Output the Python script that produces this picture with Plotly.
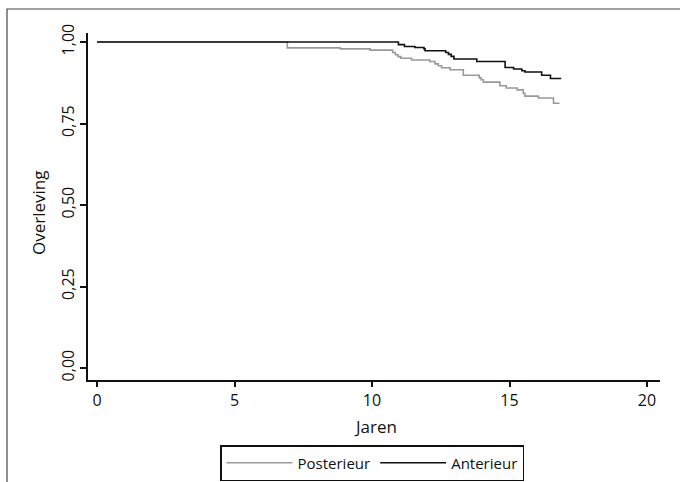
import plotly.graph_objects as go

# Kaplan-Meier step data
post_t = [0, 6.92, 8.84, 9.93, 10.75, 10.85, 10.95, 11.05, 11.44, 12.10, 12.29, 12.41, 12.53,
          12.84, 13.32, 13.90, 13.97, 14.05, 14.65, 14.88, 15.28, 15.50, 15.56, 16.05, 16.60, 16.82]
post_s = [1.0, 0.982, 0.979, 0.975, 0.968, 0.961, 0.955, 0.950, 0.945, 0.940, 0.933, 0.927, 0.921,
          0.915, 0.898, 0.890, 0.884, 0.877, 0.866, 0.859, 0.853, 0.843, 0.834, 0.828, 0.812, 0.812]

ant_t = [0, 10.96, 11.18, 11.56, 11.89, 11.93, 12.68, 12.78, 12.88, 12.98, 13.81, 14.84, 15.15,
         15.45, 15.56, 16.17, 16.49, 16.88]
ant_s = [1.0, 0.992, 0.986, 0.983, 0.979, 0.973, 0.968, 0.962, 0.956, 0.948, 0.940, 0.922, 0.917,
         0.912, 0.908, 0.898, 0.888, 0.888]

x_ticks = [0, 5, 10, 15, 20]
y_ticks = [0, 0.25, 0.5, 0.75, 1.0]
y_tick_labels = ["0,00", "0,25", "0,50", "0,75", "1,00"]
x_title = "Jaren"
y_title = "Overleving"

FONT = "Open Sans"

fig = go.Figure()
fig.add_trace(go.Scatter(x=post_t, y=post_s, mode="lines", line_shape="hv",
                         name="Posterieur", line=dict(color="#999999", width=1.6)))
fig.add_trace(go.Scatter(x=ant_t, y=ant_s, mode="lines", line_shape="hv",
                         name="Anterieur", line=dict(color="#111111", width=1.6)))

W, H = 680, 482
ml, mr, mt, mb = 88, 20, 33, 102
pw, ph = W - ml - mr, H - mt - mb

def px_x(p):
    return (p - ml) / pw

def px_y(p):
    return (H - mb - p) / ph

# outer frame (cropped on right/bottom in the reference)
fig.add_shape(type="rect", xref="paper", yref="paper",
              x0=px_x(7), x1=px_x(700), y0=px_y(500), y1=px_y(9),
              line=dict(color="#444444", width=1.2), fillcolor="rgba(0,0,0,0)")

# axis titles
fig.add_annotation(text=x_title, xref="paper", yref="paper", x=px_x(375), y=px_y(426),
                   xanchor="center", yanchor="middle", showarrow=False,
                   font=dict(family=FONT, size=17, color="#111111"))
fig.add_annotation(text=y_title, xref="paper", yref="paper", x=px_x(38), y=px_y(213),
                   xanchor="center", yanchor="middle", showarrow=False, textangle=-90,
                   font=dict(family=FONT, size=17, color="#111111"))

fig.update_layout(
    width=W, height=H,
    margin=dict(l=ml, r=mr, t=mt, b=mb, autoexpand=False),
    plot_bgcolor="white", paper_bgcolor="white",
    font=dict(family=FONT, color="#111111", size=16),
    showlegend=True,
    legend=dict(orientation="h", xref="container", x=372 / W, xanchor="center",
                yref="container", y=1 - 445 / H, yanchor="top",
                bordercolor="#111111", borderwidth=1.5, bgcolor="white",
                font=dict(family=FONT, size=15), itemwidth=66,
                tracegroupgap=0),
    xaxis=dict(range=[-9 / 27.5, (660 - 97) / 27.5], tickvals=x_ticks, automargin=False,
               showgrid=False, zeroline=False, showline=True, linecolor="#111111", linewidth=2,
               ticks="outside", ticklen=5, tickwidth=2, tickcolor="#111111",
               tickfont=dict(size=16)),
    yaxis=dict(range=[-12 / 326, 1 + 9 / 326], tickvals=y_ticks, ticktext=y_tick_labels,
               automargin=False,
               showgrid=False, zeroline=False, showline=True, linecolor="#111111", linewidth=2,
               ticks="outside", ticklen=6, tickwidth=2, tickcolor="#111111",
               tickangle=-90, tickfont=dict(size=16)),
)

fig.write_html("out.html", config={"displayModeBar": False},
               post_script="document.body.style.margin='0';")
